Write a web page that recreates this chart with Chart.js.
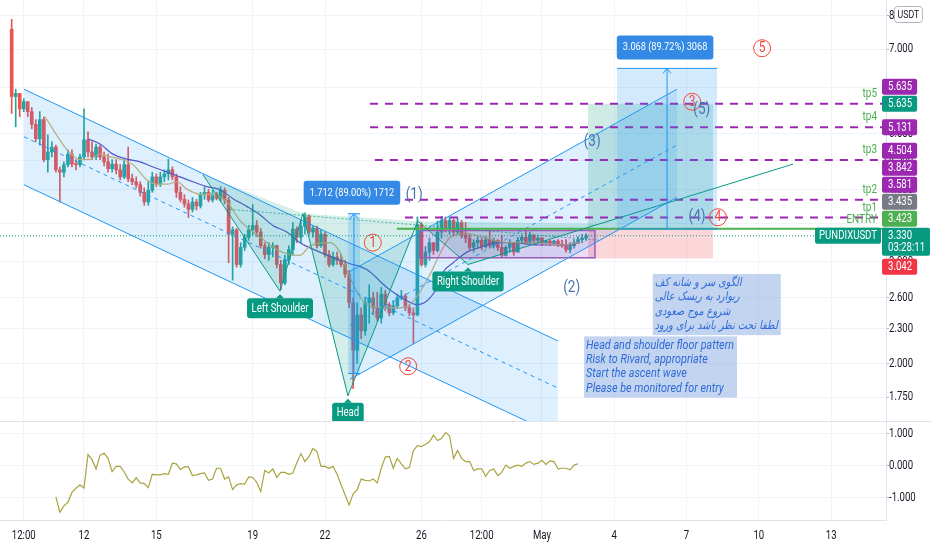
<!DOCTYPE html>
<html>
<head>
<meta charset="utf-8">
<script src="https://cdn.jsdelivr.net/npm/chart.js@4.4.1/dist/chart.umd.min.js"></script>
<style>
html, body { margin: 0; padding: 0; background: #fff; }
#wrap { width: 932px; height: 550px; overflow: hidden; }
canvas { display: block; }
#sep { height: 1px; width: 932px; background: #e0e3eb; }
</style>
</head>
<body>
<div id="wrap">
<canvas id="top" width="932" height="421"></canvas>
<div id="sep"></div>
<canvas id="bot" width="932" height="128"></canvas>
</div>
<script>
const FONT = 'Roboto, "Noto Sans", sans-serif';
const COND = 0.8; // the reference lettering is narrow
const UP = '#26a69a', DOWN = '#ef5350';
const GRID = '#f0f3fa', EDGE = '#e0e3eb', TXT = '#131722';

// x axis is counted in 4h candles, candle 0 = 9 Apr 00:00
const tickPos = [3, 18, 36, 60, 78, 102, 117, 132, 150, 168, 186, 204];
const tickText = ['12:00', '12', '15', '19', '22', '26', '12:00', 'May', '4', '7', '10', '13'];
const xMin = -2.91, xMax = 217.65;

const open0 = 7.58;
const closes = [
  5.80,5.87,5.52,5.68,5.46,5.19,4.90,5.29,4.51,4.65,4.74,4.33,
  4.29,4.42,4.61,4.43,4.42,4.56,4.88,4.65,4.56,4.74,4.56,4.47,
  4.35,4.43,4.33,4.21,4.42,4.18,4.13,4.08,3.96,3.81,3.99,4.21,
  4.09,4.21,4.26,4.33,4.21,3.96,3.85,3.78,3.70,3.81,3.75,3.92,
  3.96,3.84,3.93,3.87,3.99,3.84,3.35,3.41,2.97,3.18,3.31,3.41,
  3.47,3.38,3.20,3.09,3.18,3.20,2.97,2.76,3.03,3.15,3.42,3.31,
  3.46,3.59,3.38,3.43,3.20,3.35,3.09,2.97,3.06,3.02,2.97,2.86,
  2.55,2.11,2.43,2.28,2.55,2.60,2.50,2.40,2.64,2.53,2.45,2.52,
  2.60,2.62,2.50,2.45,2.43,3.48,2.97,3.12,3.24,3.14,3.38,3.54,
  3.44,3.54,3.38,3.51,3.34,3.30,3.18,3.24,3.27,3.19,3.28,3.20,
  3.27,3.18,3.08,3.18,3.24,3.12,3.27,3.31,3.24,3.34,3.27,3.30,
  3.23,3.26,3.23,3.26,3.22,3.20,3.15,3.20,3.24,3.28,3.30,3.33
];
const highs = [
  7.89,5.97,5.87,5.75,5.68,5.55,5.29,5.46,5.35,4.98,4.84,4.78,
  4.38,4.47,4.69,4.69,4.51,4.61,5.52,5.04,4.84,4.80,4.78,4.65,
  4.61,4.51,4.51,4.42,4.51,4.74,4.26,4.21,4.13,4.03,4.13,4.29,
  4.26,4.29,4.33,4.52,4.38,4.26,4.05,3.92,3.84,3.88,3.85,3.96,
  4.05,4.01,3.99,3.96,4.05,4.03,3.88,3.45,3.43,3.24,3.35,3.47,
  3.77,3.54,3.43,3.24,3.24,3.24,3.21,3.02,3.08,3.20,3.51,3.45,
  3.54,3.65,3.62,3.46,3.46,3.41,3.38,3.14,3.12,3.12,3.09,3.02,
  2.90,2.60,2.55,2.50,2.60,2.74,2.66,2.66,2.71,2.68,2.55,2.57,
  2.64,2.68,2.64,2.53,2.50,3.59,3.51,3.19,3.30,3.24,3.53,3.60,
  3.59,3.59,3.56,3.57,3.54,3.51,3.35,3.28,3.31,3.30,3.32,3.39,
  3.30,3.28,3.34,3.20,3.28,3.24,3.31,3.34,3.39,3.38,3.34,3.32,
  3.31,3.27,3.27,3.27,3.28,3.27,3.28,3.24,3.28,3.32,3.35,3.36
];
const lows = [
  5.42,5.14,5.35,5.46,5.35,5.10,4.84,4.78,4.47,4.29,4.56,4.29,
  3.81,4.21,4.38,4.38,4.33,4.38,4.51,4.56,4.51,4.51,4.51,4.40,
  4.29,4.29,4.26,4.16,4.18,4.13,4.08,4.03,3.90,3.76,3.76,3.96,
  4.05,4.05,4.13,4.16,4.16,3.88,3.81,3.73,3.58,3.66,3.69,3.72,
  3.85,3.81,3.81,3.84,3.82,3.78,2.99,2.79,2.94,2.94,3.14,3.27,
  3.34,3.32,3.17,3.04,3.02,3.06,2.93,2.69,2.74,2.97,3.08,3.24,
  3.24,3.35,3.35,3.31,3.17,3.18,3.06,2.94,2.95,2.97,2.94,2.82,
  2.50,1.81,2.005,2.21,2.24,2.35,2.43,2.37,2.35,2.47,2.42,2.43,
  2.49,2.58,2.47,2.42,2.17,2.42,2.95,2.94,3.02,3.09,3.12,3.30,
  3.38,3.35,3.34,3.35,3.30,3.24,3.14,3.12,3.18,3.15,3.17,3.17,
  3.17,3.14,3.06,3.07,3.12,3.08,3.12,3.24,3.22,3.23,3.24,3.24,
  3.20,3.22,3.20,3.22,3.19,3.18,3.12,3.11,3.17,3.23,3.24,3.27
];

// moving averages: [candle, price]
const maFast = [[8.3,5.35],[13.8,4.69],[17,4.51],[19.5,4.52],[22,4.61],[24.5,4.56],[27,4.52],[30.2,4.42],
  [33.7,4.16],[36.2,4.09],[38.7,4.09],[41.2,4.13],[43.6,4.01],[46.9,3.93],[50.1,3.92],[53.6,3.81],
  [56.8,3.54],[60.1,3.38],[62.6,3.28],[66,3.15],[69.3,3.09],[71.8,3.08],[74.3,3.20],[79.2,3.24],
  [81.7,3.12],[83.5,2.90],[86,2.66],[88.4,2.53],[93.4,2.50],[96.7,2.50],[99.1,2.53],[101.6,2.66],
  [104.1,2.85],[106.6,3.10],[109,3.30],[113.3,3.36],[117.3,3.31],[123.3,3.24],[130,3.24],[136.5,3.21],[141.5,3.24]];
const maSlow = [[19,4.90],[22,4.80],[25.2,4.61],[28.7,4.52],[32,4.47],[35.2,4.38],[38.7,4.29],[41.9,4.21],
  [45.1,4.13],[48.6,4.05],[51.9,4.00],[55.1,3.86],[58.6,3.74],[61.8,3.62],[65,3.47],[68.5,3.38],
  [71.8,3.24],[76.7,3.12],[83.5,2.99],[88.4,2.91],[93.4,2.71],[98.4,2.57],[100.9,2.53],[103.4,2.57],
  [105.9,2.71],[107.4,2.88],[109.9,2.99],[113.3,3.12],[116.6,3.18],[120.8,3.24],[124.8,3.24],
  [131.5,3.21],[138.2,3.21],[141.5,3.24]];

// lower pane oscillator, one value per candle from candle 11
const oscStart = 11;
const osc = [
  -0.98,-1.46,-1.26,-1.15,-0.84,-0.71,-0.60,-0.70,0.35,0.19,
  -0.10,0.33,0.39,0.23,-0.19,-0.02,-0.02,-0.19,-0.42,-0.54,
  -0.38,-0.54,-0.56,-0.69,-0.27,-0.29,-0.29,-0.25,-0.27,0.08,
  0.06,-0.12,-0.04,-0.04,-0.31,-0.29,-0.25,-0.23,-0.46,-0.42,
  -0.08,-0.08,-0.42,-0.35,-0.75,-0.60,-0.56,-0.58,-0.35,-0.37,
  -0.52,-0.81,-0.15,-0.23,-0.10,-0.37,-0.21,-0.21,-0.27,-0.23,
  0.10,0.38,0.13,0.29,0.54,0.44,-0.02,-0.02,-0.08,-0.02,
  -0.27,-0.60,-0.92,-1.23,-0.88,-0.75,-0.42,-0.46,-0.48,-0.42,
  -0.54,-0.08,0.27,0.29,-0.08,0.23,0.06,-0.10,-0.06,0.48,
  0.63,0.60,0.67,0.75,0.96,0.79,0.85,1.04,0.94,0.23,
  0.48,0.23,0.13,0.13,-0.15,-0.10,-0.10,-0.33,-0.15,-0.10,
  -0.31,-0.21,0.02,-0.08,-0.02,0.02,-0.02,0.08,0.13,0.04,
  0.08,0.17,0.04,0.15,0.13,-0.10,-0.08,-0.08,-0.13,0.02,
  0.06
];

const priceTicks = [8, 7, 6, 5, 4.5, 4, 3.5, 3, 2.6, 2.3, 2, 1.75];
const oscTicks = [1, 0, -1];

// drawings, points as [candle, price]
const downTop = [[3.06,5.97],[136,2.19]];
const downMid = [[3.06,4.94],[136,1.815]];
const downBot = [[3.06,4.08],[136,1.50]];
const upTop = [[84.2,2.89],[165.6,5.97]];
const upMid = [[84.2,2.33],[165.6,4.78]];
const upBot = [[84.2,1.88],[165.6,3.88]];
const hsPts = [[47.6,4.25],[66.8,2.67],[72.5,3.64],[83.7,1.76],[101.1,3.53],[113.6,2.97],[194.5,4.43]];
const hsEnd = [146.5,3.49];
const hsNames = [[1,'Left Shoulder'],[3,'Head'],[5,'Right Shoulder']];
const neckline = [[54.3,3.70],[146.5,3.27]];
const rangeBoxes = [[83.7,86.7,1.9236,3.6356],[150.7,175.6,3.4195,6.4875]];
const longPos = [143.5,174.6,3.42,5.635,3.042];
const consBox = [101.6,145.2,3.40,3.05];
const tpLevels = [5.635,5.131,4.504,3.842,3.581];
const tpFrom = [89.2,89.2,90.4,97.9,97.9];
const tpNames = ['tp5','tp4','tp3','tp2','tp1'];
const entryLevel = 3.423, entryFrom = 95.9;
const waveNums = [['1',89.9,3.24],['2',98.7,1.98],['3',169.4,5.68],['4',175.8,3.585],['5',186.8,7.03]];
const waveSub = [['(1)',100.2,3.92],['(2)',139.4,2.71],['(3)',144.5,4.84],['(4)',170.6,3.585],['(5)',171.8,5.50]];
const noteFa = ['الگوی سر و شانه کف','ریوارد به ریسک عالی','شروع موج صعودی','لطفا تحت نظر باشد برای ورود'];
const noteEn = ['Head and shoulder floor pattern','Risk to Rivard, appropriate','Start the ascent wave','Please be monitored for entry'];
const noteFaAt = [159.6,2.86], noteEnAt = [142.5,2.23];
const lastPrice = 3.330, symbol = 'PUNDIXUSDT', countdown = '03:28:11';
const tags = [[5.635,'#9c27b0'],[5.635,'#089981'],[5.131,'#9c27b0'],[4.504,'#9c27b0'],[3.842,'#9c27b0'],
  [3.581,'#9c27b0'],[3.435,'#787b86'],[3.423,'#4caf50'],[3.330,'#089981'],[3.042,'#f23645']];
const mainTag = 8;

const opens = closes.map((c, i) => i ? closes[i - 1] : open0);
const candleColor = closes.map((c, i) => c >= opens[i] ? UP : DOWN);

function fixAxis(w, h) {
  return s => {
    if (w !== undefined) s.width = w;
    if (h !== undefined) s.height = h;
    s.paddingTop = 0; s.paddingBottom = 0; s.paddingLeft = 0; s.paddingRight = 0;
  };
}

function putText(ctx, t, x, y, font, color, align, rtl) {
  ctx.save();
  ctx.font = font; ctx.fillStyle = color; ctx.textBaseline = 'middle';
  ctx.textAlign = align || 'center';
  ctx.direction = rtl ? 'rtl' : 'ltr';
  ctx.translate(x, y); ctx.scale(COND, 1);
  ctx.fillText(t, 0, 0);
  ctx.restore();
}
function textWidth(ctx, t, font) {
  ctx.save(); ctx.font = font;
  const w = ctx.measureText(t).width * COND;
  ctx.restore();
  return w;
}

const drawings = {
  id: 'drawings',
  afterDatasetsDraw(chart) {
    const { ctx, chartArea: a } = chart;
    const X = v => chart.scales.x.getPixelForValue(v);
    const Y = v => chart.scales.y.getPixelForValue(v);
    const trace = pts => {
      ctx.beginPath();
      pts.forEach((p, k) => k ? ctx.lineTo(X(p[0]), Y(p[1])) : ctx.moveTo(X(p[0]), Y(p[1])));
    };
    const fillPts = (pts, c) => { trace(pts); ctx.closePath(); ctx.fillStyle = c; ctx.fill(); };
    const strokePts = (pts, c, w, dash) => {
      trace(pts); ctx.strokeStyle = c; ctx.lineWidth = w; ctx.setLineDash(dash || []); ctx.stroke(); ctx.setLineDash([]);
    };
    const box = (x0, x1, p0, p1, c) => fillPts([[x0, p0], [x1, p0], [x1, p1], [x0, p1]], c);

    ctx.save();
    ctx.beginPath(); ctx.rect(a.left, a.top, a.right - a.left, a.bottom - a.top); ctx.clip();

    // fills
    fillPts([downTop[0], downTop[1], downBot[1], downBot[0]], 'rgba(33,150,243,0.15)');
    fillPts([upTop[0], upTop[1], upBot[1], upBot[0]], 'rgba(33,150,243,0.15)');
    fillPts([hsPts[0], hsPts[1], hsPts[2]], 'rgba(8,153,129,0.17)');
    fillPts([hsPts[2], hsPts[3], hsPts[4]], 'rgba(8,153,129,0.17)');
    fillPts([hsPts[4], hsPts[5], hsEnd], 'rgba(8,153,129,0.17)');
    box(longPos[0], longPos[1], longPos[2], longPos[3], 'rgba(8,153,129,0.2)');
    box(longPos[0], longPos[1], longPos[2], longPos[4], 'rgba(242,54,69,0.2)');
    box(consBox[0], consBox[1], consBox[2], consBox[3], 'rgba(156,39,176,0.16)');
    strokePts([[consBox[0], consBox[2]], [consBox[1], consBox[2]], [consBox[1], consBox[3]], [consBox[0], consBox[3]], [consBox[0], consBox[2]]], '#9c5bb8', 1.5);

    // channels
    [downTop, downBot, upTop, upBot].forEach(l => strokePts(l, '#2196f3', 1));
    [downMid, upMid].forEach(l => strokePts(l, '#2196f3', 1, [4, 4]));

    // target levels
    tpLevels.forEach((v, k) => strokePts([[tpFrom[k], v], [xMax, v]], '#9c27b0', 2, [8, 7]));
    strokePts([[entryFrom, entryLevel], [xMax, entryLevel]], '#4caf50', 2);

    // head and shoulders
    strokePts(neckline, 'rgba(8,153,129,0.7)', 1, [2, 2]);
    strokePts(hsPts, '#089981', 1);
    strokePts([[xMin, lastPrice], [xMax, lastPrice]], '#089981', 1, [1, 2]);

    // price range tools
    rangeBoxes.forEach(([x0, x1, lo, hi]) => {
      box(x0, x1, lo, hi, 'rgba(33,150,243,0.2)');
      strokePts([[x0, hi], [x1, hi]], '#2196f3', 1);
      strokePts([[x0, lo], [x1, lo]], '#2196f3', 1);
      const cx = (X(x0) + X(x1)) / 2, yl = Y(lo), yh = Y(hi);
      ctx.beginPath();
      ctx.moveTo(cx, yl); ctx.lineTo(cx, yh);
      ctx.moveTo(cx - 4, yh + 5); ctx.lineTo(cx, yh); ctx.lineTo(cx + 4, yh + 5);
      ctx.strokeStyle = '#2196f3'; ctx.lineWidth = 1; ctx.stroke();
      const d = hi - lo;
      const t = `${d.toFixed(3)} (${(d / lo * 100).toFixed(2)}%) ${Math.round(d * 1000)}`;
      const f = `11.5px ${FONT}`;
      const w = textWidth(ctx, t, f) + 12, h = 24;
      ctx.fillStyle = '#3389e3';
      ctx.beginPath(); ctx.roundRect(cx - 2 - w / 2, yh - 9 - h, w, h, 3); ctx.fill();
      putText(ctx, t, cx - 2, yh - 9 - h / 2, f, '#fff');
    });

    // wave counts
    waveNums.forEach(([t, i, v]) => {
      ctx.beginPath(); ctx.arc(X(i), Y(v), 8.5, 0, Math.PI * 2);
      ctx.strokeStyle = '#f44336'; ctx.lineWidth = 1; ctx.stroke();
      putText(ctx, t, X(i), Y(v) + 0.5, `15px ${FONT}`, '#f44336');
    });
    waveSub.forEach(([t, i, v]) => putText(ctx, t, X(i), Y(v), `17px ${FONT}`, '#4a74b0'));

    // pattern labels
    hsNames.forEach(([k, t]) => {
      const cx = X(hsPts[k][0]), top = Y(hsPts[k][1]) + 7;
      const f = `12px ${FONT}`;
      const w = textWidth(ctx, t, f) + 9, h = 20;
      ctx.fillStyle = '#089981';
      ctx.beginPath(); ctx.roundRect(cx - w / 2, top, w, h, 3); ctx.fill();
      ctx.beginPath(); ctx.moveTo(cx - 4, top); ctx.lineTo(cx, top - 4); ctx.lineTo(cx + 4, top); ctx.fill();
      putText(ctx, t, cx, top + h / 2 + 0.5, f, '#fff');
    });

    // notes
    const note = (lines, at, font, rtl) => {
      const w = Math.max(...lines.map(l => textWidth(ctx, l, font))) + 5;
      const x0 = X(at[0]), y0 = Y(at[1]), lh = 14.3, h = lines.length * lh + 4;
      ctx.fillStyle = 'rgba(120,160,220,0.45)';
      ctx.fillRect(x0, y0, w, h);
      lines.forEach((l, k) => putText(ctx, l, x0 + 2, y0 + 9 + k * lh, font, '#2f6bd8', 'left', rtl));
    };
    note(noteFa, noteFaAt, 'italic 12px "DejaVu Sans"', true);
    note(noteEn, noteEnAt, `italic 13.5px ${FONT}`, false);

    // level names
    tpLevels.forEach((v, k) => putText(ctx, tpNames[k], a.right - 9, Y(v) - 10, `12.5px ${FONT}`, '#4caf50', 'right'));
    putText(ctx, 'ENTRY', a.right - 9, Y(entryLevel) - 9, `12.5px ${FONT}`, '#4caf50', 'right');

    // symbol label on the last price line
    const sf = `12px ${FONT}`;
    const sw = textWidth(ctx, symbol, sf) + 8;
    ctx.fillStyle = '#089981';
    ctx.beginPath(); ctx.roundRect(a.right - 5 - sw, Y(lastPrice) - 8, sw, 16, 2); ctx.fill();
    putText(ctx, symbol, a.right - 5 - sw / 2, Y(lastPrice) + 0.5, sf, '#fff');

    ctx.restore();
  },
  afterDraw(chart) {
    const { ctx, chartArea: a } = chart;
    const Y = v => chart.scales.y.getPixelForValue(v);
    const f = `12px ${FONT}`;
    // price scale labels
    priceTicks.forEach(v => putText(ctx, v === 8 ? '8' : v.toFixed(3), a.right + 3, Y(v), f, TXT, 'left'));
    // value tags, stacked away from the last price tag
    const pos = tags.map(t => Y(t[0]));
    let edge = pos[mainTag] - 8;
    for (let k = mainTag - 1; k >= 0; k--) { pos[k] = Math.min(pos[k], edge - 9); edge = pos[k] - 8; }
    edge = pos[mainTag] + 20;
    for (let k = mainTag + 1; k < tags.length; k++) { pos[k] = Math.max(pos[k], edge + 11); edge = pos[k] + 8; }
    tags.forEach((t, k) => {
      const txt = t[0].toFixed(3);
      const isMain = k === mainTag;
      const h = isMain ? 28 : 16;
      const w = Math.max(textWidth(ctx, txt, f), isMain ? textWidth(ctx, countdown, f) : 0) + 11;
      ctx.fillStyle = t[1];
      ctx.beginPath(); ctx.roundRect(a.right - 4, pos[k] - 8, w, h, 2); ctx.fill();
      putText(ctx, txt, a.right + 2, pos[k] + 0.5, f, '#fff', 'left');
      if (isMain) putText(ctx, countdown, a.right + 2, pos[k] + 12.5, f, '#fff', 'left');
    });
    // currency box
    const uf = `11px ${FONT}`;
    const uw = textWidth(ctx, 'USDT', uf) + 6;
    ctx.fillStyle = '#fff'; ctx.strokeStyle = '#b2b5be'; ctx.lineWidth = 1;
    ctx.beginPath(); ctx.roundRect(a.right + 8.5, 6.5, uw, 16, 3); ctx.fill(); ctx.stroke();
    putText(ctx, 'USDT', a.right + 11.5, 15, uf, TXT, 'left');
  }
};

const oscLabels = {
  id: 'oscLabels',
  afterDraw(chart) {
    const { ctx, chartArea: a } = chart;
    const f = `12px ${FONT}`;
    oscTicks.forEach(v => putText(ctx, v.toFixed(3), a.right + 3, chart.scales.y.getPixelForValue(v), f, TXT, 'left'));
    tickPos.forEach((v, k) => putText(ctx, tickText[k], chart.scales.x.getPixelForValue(v), a.bottom + 16, f, TXT));
  }
};

Chart.defaults.animation = false;
Chart.defaults.font.family = FONT;

new Chart(document.getElementById('top'), {
  type: 'bar',
  data: {
    datasets: [
      { type: 'line', data: maFast.map(p => ({ x: p[0], y: p[1] })), borderColor: '#cfb26a', borderWidth: 1.2,
        pointRadius: 0, cubicInterpolationMode: 'monotone' },
      { type: 'line', data: maSlow.map(p => ({ x: p[0], y: p[1] })), borderColor: '#5a4fbf', borderWidth: 1.2,
        pointRadius: 0, cubicInterpolationMode: 'monotone' },
      { data: closes.map((c, i) => ({ x: i, y: [opens[i], c] })), backgroundColor: candleColor,
        barThickness: 3, grouped: false, minBarLength: 1 },
      { data: closes.map((c, i) => ({ x: i, y: [lows[i], highs[i]] })), backgroundColor: candleColor,
        barThickness: 1, grouped: false }
    ]
  },
  options: {
    responsive: false,
    events: [],
    layout: { padding: 0 },
    plugins: { legend: { display: false }, tooltip: { enabled: false } },
    scales: {
      x: {
        type: 'linear', min: xMin, max: xMax, offset: false,
        grid: { color: GRID, drawTicks: false, offset: false },
        border: { display: false },
        ticks: { display: false },
        afterBuildTicks: s => { s.ticks = tickPos.map(v => ({ value: v })); },
        afterFit: fixAxis(undefined, 0)
      },
      y: {
        type: 'logarithmic', position: 'right', min: 1.592, max: 8.519,
        grid: { color: GRID, tickLength: 3, tickColor: '#b2b5be' },
        border: { color: EDGE },
        ticks: { display: false },
        afterBuildTicks: s => { s.ticks = priceTicks.map(v => ({ value: v })); },
        afterFit: fixAxis(46)
      }
    }
  },
  plugins: [drawings]
});

new Chart(document.getElementById('bot'), {
  type: 'line',
  data: {
    datasets: [
      { data: osc.map((v, k) => ({ x: oscStart + k, y: v })), borderColor: '#a9a43f', borderWidth: 1.2, pointRadius: 0 }
    ]
  },
  options: {
    responsive: false,
    events: [],
    layout: { padding: 0 },
    plugins: { legend: { display: false }, tooltip: { enabled: false } },
    scales: {
      x: {
        type: 'linear', min: xMin, max: xMax, offset: false,
        grid: { color: GRID, drawTicks: false },
        border: { color: EDGE },
        ticks: { display: false },
        afterBuildTicks: s => { s.ticks = tickPos.map(v => ({ value: v })); },
        afterFit: fixAxis(undefined, 30)
      },
      y: {
        type: 'linear', position: 'right', min: -1.705, max: 1.372,
        grid: { color: GRID, tickLength: 3, tickColor: '#b2b5be' },
        border: { color: EDGE },
        ticks: { display: false },
        afterBuildTicks: s => { s.ticks = oscTicks.map(v => ({ value: v })); },
        afterFit: fixAxis(46)
      }
    }
  },
  plugins: [oscLabels]
});
</script>
</body>
</html>
